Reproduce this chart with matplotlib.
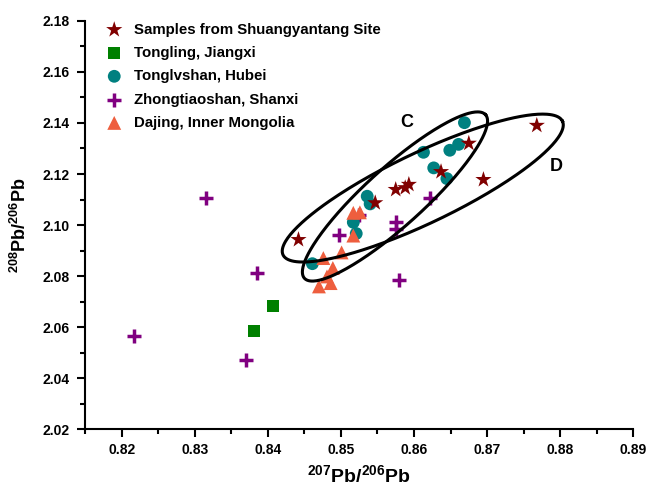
import numpy as np
import matplotlib.pyplot as plt

plt.rcParams['font.family'] = ['Liberation Sans', 'DejaVu Sans']
plt.rcParams['font.weight'] = 'bold'
plt.rcParams['mathtext.fontset'] = 'custom'
plt.rcParams['mathtext.rm'] = 'Liberation Sans'
plt.rcParams['mathtext.bf'] = 'Liberation Sans:bold'

# Samples from Shuangyantang Site
sy_x = [0.8442, 0.8547, 0.8575, 0.8588, 0.8593, 0.8637, 0.8675, 0.8695, 0.8768]
sy_y = [2.0943, 2.1087, 2.1139, 2.1146, 2.1159, 2.1209, 2.1320, 2.1178, 2.1390]

# Tongling, Jiangxi
tl_x = [0.8381, 0.8407]
tl_y = [2.0586, 2.0684]

# Tonglvshan, Hubei
tls_x = [0.8461, 0.8517, 0.8521, 0.8536, 0.8540, 0.8613, 0.8627, 0.8645, 0.8649, 0.8661, 0.8669]
tls_y = [2.0849, 2.1011, 2.0967, 2.1113, 2.1083, 2.1285, 2.1224, 2.1182, 2.1293, 2.1316, 2.1401]

# Zhongtiaoshan, Shanxi
zt_x = [0.8217, 0.8316, 0.8370, 0.8385, 0.8498, 0.8525, 0.8575, 0.8575, 0.8579, 0.8622]
zt_y = [2.0567, 2.1107, 2.0473, 2.0813, 2.0963, 2.1040, 2.1011, 2.0985, 2.0784, 2.1107]

# Dajing, Inner Mongolia
dj_x = [0.8470, 0.8476, 0.8481, 0.8486, 0.8489, 0.8501, 0.8517, 0.8517, 0.8526]
dj_y = [2.0760, 2.0871, 2.0799, 2.0773, 2.0832, 2.0893, 2.0959, 2.1048, 2.1050]

# ellipses C and D: centre (data), half axes (px), angle (deg, screen)
ell_C = (0.8574, 2.1112, 122, 29, 42)
ell_D = (0.8612, 2.1145, 155, 35, 25.5)

px_x = 0.01 / 73.2   # data per pixel
px_y = 0.02 / 51.0

fig = plt.figure(figsize=(6.49, 4.90), dpi=100)
ax = fig.add_axes([0.131, 0.1235, 0.8448, 0.8342])

ax.scatter(zt_x, zt_y, marker='+', s=100, linewidths=2.5, color='#800080',
           label='Zhongtiaoshan, Shanxi', zorder=3)
ax.scatter(tls_x, tls_y, marker='o', s=85, color='#008080', edgecolors='none',
           label='Tonglvshan, Hubei', zorder=4)
ax.scatter(dj_x, dj_y, marker='^', s=100, color='#EE5E3E', edgecolors='none',
           label='Dajing, Inner Mongolia', zorder=5)
ax.scatter(tl_x, tl_y, marker='s', s=70, color='#008000', edgecolors='none',
           label='Tongling, Jiangxi', zorder=4)
ax.scatter(sy_x, sy_y, marker='*', s=150, color='#800000', edgecolors='none',
           label='Samples from Shuangyantang Site', zorder=6)

t = np.linspace(0, 2 * np.pi, 300)
for xc, yc, a, b, ang in (ell_C, ell_D):
    th = np.radians(ang)
    dx = a * np.cos(t) * np.cos(th) - b * np.sin(t) * np.sin(th)
    dy = a * np.cos(t) * np.sin(th) + b * np.sin(t) * np.cos(th)
    ax.plot(xc + dx * px_x, yc + dy * px_y, color='black', lw=2.2, zorder=7)

ax.text(0.8590, 2.1401, 'C', fontsize=13, fontweight='bold', ha='center', va='center')
ax.text(0.8794, 2.1231, 'D', fontsize=13, fontweight='bold', ha='center', va='center')

ax.set_xlim(0.815, 0.89)
ax.set_ylim(2.02, 2.18)
ax.set_xticks(np.arange(0.82, 0.8901, 0.01))
ax.set_xticks(np.arange(0.815, 0.8901, 0.005), minor=True)
ax.set_yticks(np.arange(2.02, 2.1801, 0.02))
ax.set_yticks(np.arange(2.02, 2.1801, 0.01), minor=True)
ax.xaxis.set_major_formatter(plt.FormatStrFormatter('%.2f'))
ax.yaxis.set_major_formatter(plt.FormatStrFormatter('%.2f'))
for lab in ax.get_xticklabels() + ax.get_yticklabels():
    lab.set_fontweight('bold')

for s in ('top', 'right'):
    ax.spines[s].set_visible(False)
for s in ('left', 'bottom'):
    ax.spines[s].set_linewidth(1.5)
ax.tick_params(which='major', length=6, width=1.5, labelsize=10)
ax.tick_params(axis='x', which='major', pad=4)
ax.tick_params(axis='y', which='major', pad=5)
ax.tick_params(which='minor', length=3.5, width=1.5)

ax.set_xlabel(r'$^{\mathrm{207}}$Pb/$^{\mathrm{206}}$Pb', fontsize=14, fontweight='bold', labelpad=5)
ax.set_ylabel(r'$^{\mathrm{208}}$Pb/$^{\mathrm{206}}$Pb', fontsize=13, fontweight='bold', labelpad=9)

h, l = ax.get_legend_handles_labels()
order = [4, 3, 1, 0, 2]
leg = ax.legend([h[i] for i in order], [l[i] for i in order], loc='upper left',
                bbox_to_anchor=(0.015, 1.01), frameon=False,
                prop={'size': 10.8, 'weight': 'bold'},
                handletextpad=0.3, labelspacing=0.62, borderaxespad=0)

fig.savefig('out.png', dpi=100)
